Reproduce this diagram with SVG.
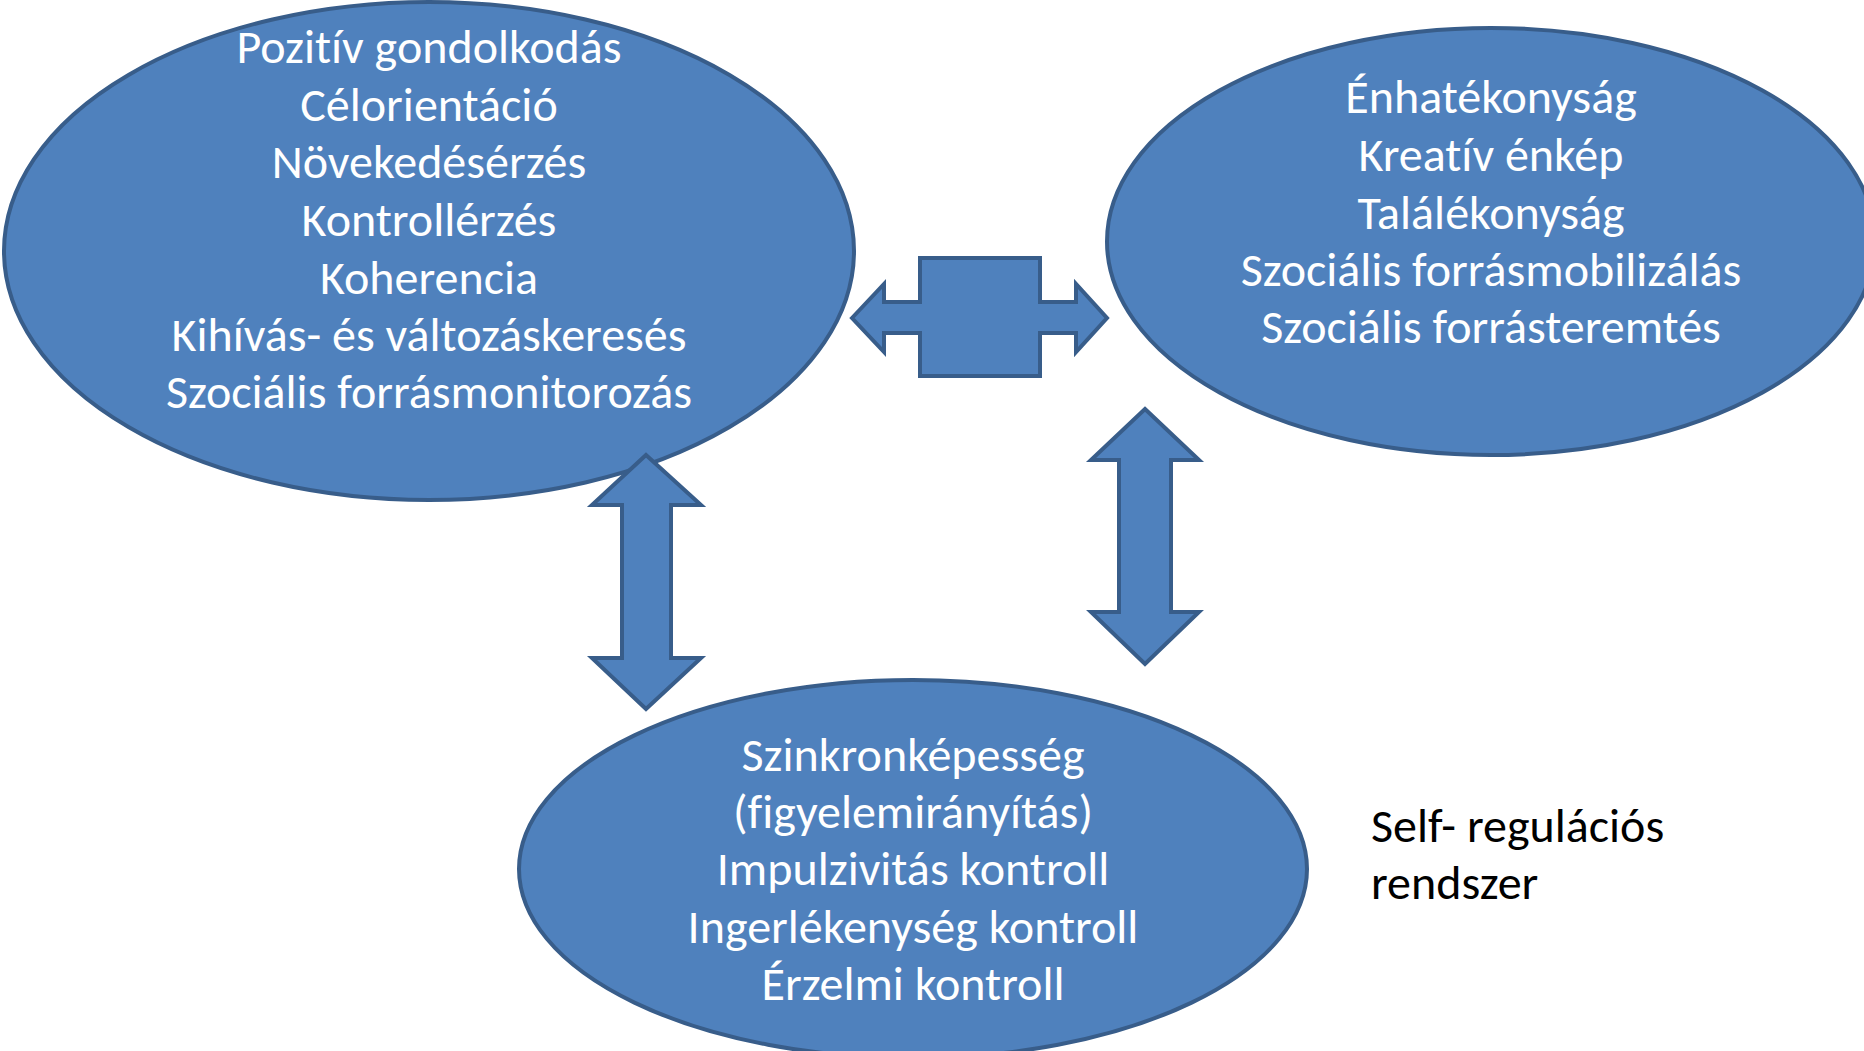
<svg xmlns="http://www.w3.org/2000/svg" width="1864" height="1051" viewBox="0 0 1864 1051">
<style>
.shape{fill:#4F81BD;stroke:#385D8A;stroke-width:4;stroke-linejoin:miter}
.t{font-family:Carlito,"Liberation Sans",sans-serif;font-size:48px;fill:#FFFFFF;text-anchor:middle;font-variant-ligatures:none;font-feature-settings:"liga" 0,"clig" 0,"dlig" 0;letter-spacing:0.01px}
.lbl{font-family:Carlito,"Liberation Sans",sans-serif;font-size:48px;fill:#000000;font-variant-ligatures:none;font-feature-settings:"liga" 0,"clig" 0,"dlig" 0;letter-spacing:0.01px}
</style>
<rect width="1864" height="1051" fill="#FFFFFF"/>
<g id="node-left">
<ellipse class="shape" cx="429" cy="251" rx="425" ry="249"/>
<text class="t" x="429" y="63">Pozitív gondolkodás</text>
<text class="t" x="429" y="121">Célorientáció</text>
<text class="t" x="429" y="178">Növekedésérzés</text>
<text class="t" x="429" y="236">Kontrollérzés</text>
<text class="t" x="429" y="294">Koherencia</text>
<text class="t" x="429" y="351">Kihívás- és változáskeresés</text>
<text class="t" x="429" y="408">Szociális forrásmonitorozás</text>
</g>
<g id="node-right">
<ellipse class="shape" cx="1491" cy="241.5" rx="384" ry="213.5"/>
<text class="t" x="1491" y="113">Énhatékonyság</text>
<text class="t" x="1491" y="171">Kreatív énkép</text>
<text class="t" x="1491" y="229">Találékonyság</text>
<text class="t" x="1491" y="286">Szociális forrásmobilizálás</text>
<text class="t" x="1491" y="343">Szociális forrásteremtés</text>
</g>
<g id="node-bottom">
<ellipse class="shape" cx="913" cy="869" rx="394" ry="189"/>
<text class="t" x="913" y="771">Szinkronképesség</text>
<text class="t" x="913" y="828">(figyelemirányítás)</text>
<text class="t" x="913" y="885">Impulzivitás kontroll</text>
<text class="t" x="913" y="943">Ingerlékenység kontroll</text>
<text class="t" x="913" y="1000">Érzelmi kontroll</text>
</g>
<g id="connectors">
<path class="shape" d="M852,318 L884,284 L884,302 L920,302 L920,258 L1040,258 L1040,302 L1076,302 L1076,284 L1107,318 L1076,352 L1076,333 L1040,333 L1040,376 L920,376 L920,333 L884,333 L884,352 Z"/>
<path class="shape" d="M646,455 L701,505 L671,505 L671,658 L701,658 L646,709 L592,658 L622,658 L622,505 L592,505 Z"/>
<path class="shape" d="M1145,409 L1199,460 L1171,460 L1171,612 L1199,612 L1145,664 L1091,612 L1119,612 L1119,460 L1091,460 Z"/>
</g>
<g id="label">
<text class="lbl" x="1371" y="842">Self- regulációs</text>
<text class="lbl" x="1371" y="899">rendszer</text>
</g>
</svg>
